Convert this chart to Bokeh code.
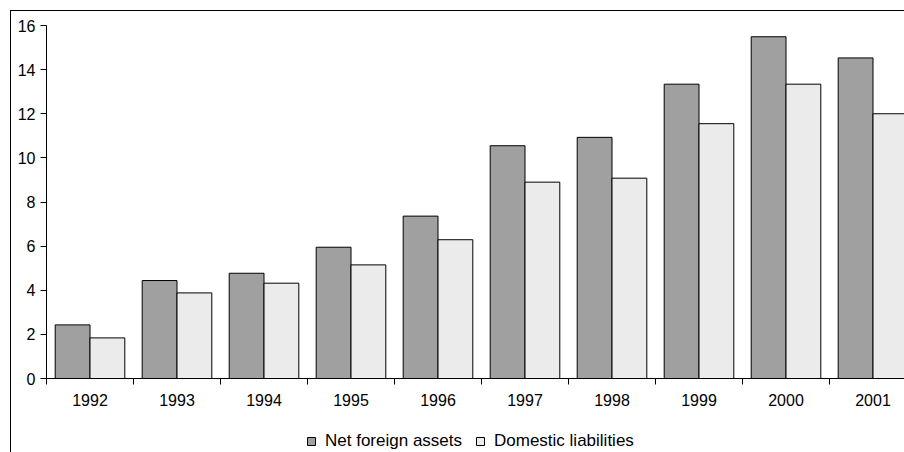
from bokeh.plotting import figure
from bokeh.layouts import column
from bokeh.models import (ColumnDataSource, Range1d, FixedTicker, Legend, LegendItem)
from bokeh.embed import file_html
from bokeh.resources import INLINE

# Annual values, 1992-2001
years = ["1992", "1993", "1994", "1995", "1996", "1997", "1998", "1999", "2000", "2001"]
net_foreign_assets = [2.43, 4.44, 4.77, 5.95, 7.36, 10.55, 10.93, 13.34, 15.49, 14.53]
domestic_liabilities = [1.84, 3.88, 4.32, 5.15, 6.29, 8.90, 9.08, 11.55, 13.34, 12.00]
series_names = ["Net foreign assets", "Domestic liabilities"]
y_ticks = [0, 2, 4, 6, 8, 10, 12, 14, 16]

FONT = "Liberation Sans"
DARK = "#A0A0A0"
LIGHT = "#EBEBEB"

bar_w = 0.4
n = len(years)
centers = [i + 0.5 for i in range(n)]
boundaries = [float(i) for i in range(n + 1)]

src = ColumnDataSource(dict(
    x_nfa=[c - bar_w / 2 for c in centers],
    x_dl=[c + bar_w / 2 for c in centers],
    nfa=net_foreign_assets,
    dl=domestic_liabilities,
))

# the category axis is wider than the canvas, so the last group runs off the edge
frame_w = 858
cat_px = 87

p = figure(width=893, height=403, output_backend="svg", toolbar_location=None,
           x_range=Range1d(0, frame_w / cat_px), y_range=Range1d(0, 16),
           min_border_left=35, min_border_right=0, min_border_top=14,
           min_border_bottom=36)
p.outline_line_color = None
p.xgrid.visible = False
p.ygrid.visible = False
p.background_fill_color = "white"
p.border_fill_color = "white"

bar_style = dict(line_color="#000000", line_width=1)
p.vbar(x="x_nfa", top="nfa", width=bar_w, bottom=0, source=src,
       fill_color=DARK, **bar_style)
p.vbar(x="x_dl", top="dl", width=bar_w, bottom=0, source=src,
       fill_color=LIGHT, **bar_style)

# x axis: labels under each category, tick marks between categories
xa = p.xaxis[0]
xa.ticker = FixedTicker(ticks=centers, minor_ticks=boundaries)
xa.major_label_overrides = {c: y for c, y in zip(centers, years)}
xa.major_tick_line_alpha = 0
xa.major_tick_out = 6
xa.major_tick_in = 0
xa.minor_tick_out = 6
xa.minor_tick_in = 0
xa.minor_tick_line_color = "#000000"
xa.axis_line_color = "#000000"
xa.major_label_standoff = 9
xa.major_label_text_font = FONT
xa.major_label_text_font_size = "16px"
xa.major_label_text_color = "#000000"

ya = p.yaxis[0]
ya.ticker = FixedTicker(ticks=y_ticks)
ya.major_tick_out = 6
ya.major_tick_in = 0
ya.minor_tick_line_color = None
ya.axis_line_color = "#000000"
ya.major_tick_line_color = "#000000"
ya.major_label_standoff = 5
ya.major_label_text_font = FONT
ya.major_label_text_font_size = "16px"
ya.major_label_text_color = "#000000"

# legend strip under the chart; its swatch renderers share the bar data,
# but the strip's ranges lie well away from the bars, so only the swatches show
q = figure(width=893, height=38, output_backend="svg", toolbar_location=None,
           x_range=Range1d(-40, -39), y_range=Range1d(-40, -39),
           x_axis_type=None, y_axis_type=None, min_border=0)
q.outline_line_color = None
q.xgrid.visible = False
q.ygrid.visible = False
k1 = q.vbar(x="x_nfa", top="nfa", width=bar_w, bottom=0, source=src,
            fill_color=DARK, **bar_style)
k2 = q.vbar(x="x_dl", top="dl", width=bar_w, bottom=0, source=src,
            fill_color=LIGHT, **bar_style)

legend = Legend(items=[LegendItem(label=series_names[0], renderers=[k1]),
                       LegendItem(label=series_names[1], renderers=[k2])],
                orientation="horizontal", location=(260, 1),
                glyph_width=10, glyph_height=10, label_standoff=9, spacing=13,
                padding=0, margin=0, border_line_color=None,
                background_fill_alpha=0,
                label_text_font=FONT, label_text_font_size="17px",
                label_text_color="#000000")
q.add_layout(legend, "center")

page = column(p, q, spacing=0)
page.styles = {"margin-left": "10px", "margin-top": "10px",
               "border-left": "1px solid #000", "border-top": "1px solid #000"}

open("out.html", "w").write(file_html(page, INLINE))
